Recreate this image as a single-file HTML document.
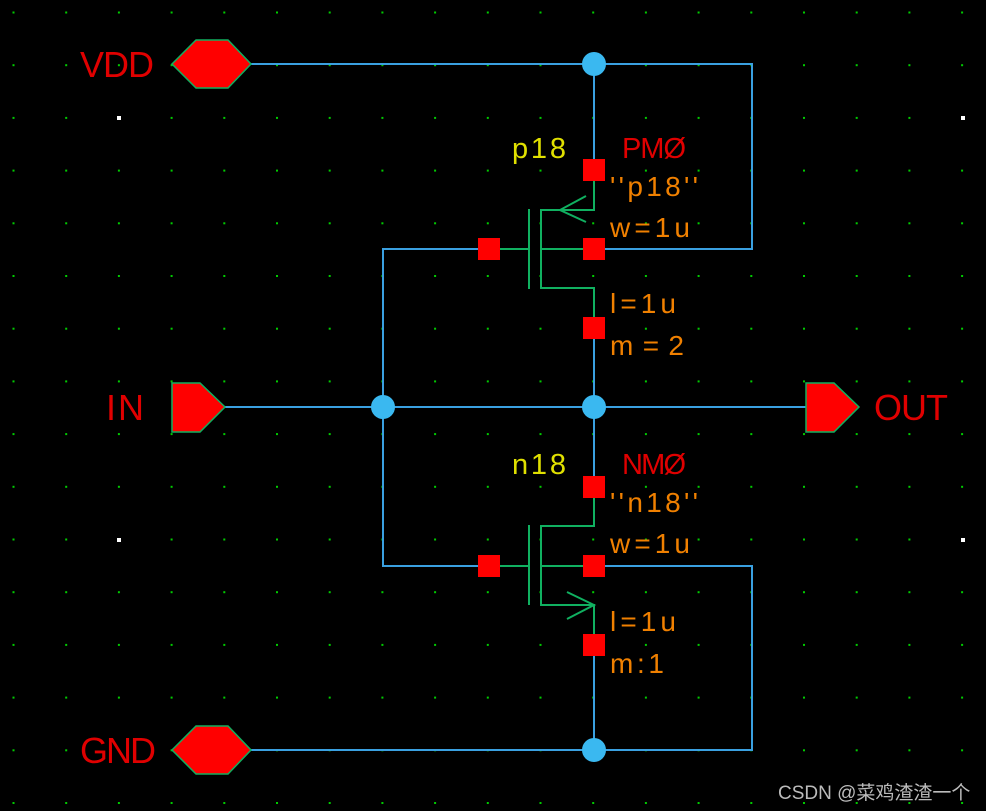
<!DOCTYPE html>
<html><head><meta charset="utf-8"><style>
html,body{margin:0;padding:0;background:#000;}
svg{display:block}
text{font-family:"Liberation Sans",sans-serif;}
</style></head><body>
<svg width="986" height="811" xmlns="http://www.w3.org/2000/svg">
<defs>
<pattern id="g" x="12.5" y="11.5" width="52.7" height="52.7" patternUnits="userSpaceOnUse">
<rect x="0" y="0" width="2" height="2" fill="#0c0"/>
</pattern>
</defs>
<rect width="986" height="811" fill="#000"/>
<rect width="986" height="811" fill="url(#g)"/>
<g fill="#fff"><rect x="117" y="116" width="4" height="4"/><rect x="961" y="116" width="4" height="4"/><rect x="117" y="538" width="4" height="4"/><rect x="961" y="538" width="4" height="4"/></g>
<!-- blue wires -->
<g stroke="#3aa0e0" stroke-width="2" fill="none">
<polyline points="251,64 752,64 752,249 594,249"/>
<line x1="594" y1="64" x2="594" y2="170"/>
<line x1="594" y1="328" x2="594" y2="487"/>
<line x1="594" y1="645" x2="594" y2="750"/>
<line x1="225" y1="407" x2="806" y2="407"/>
<polyline points="489,249 383,249 383,566 489,566"/>
<polyline points="594,566 752,566 752,750 251,750"/>
</g>
<g fill="#3ab8f0">
<circle cx="594" cy="64" r="12"/><circle cx="594" cy="407" r="12"/><circle cx="383" cy="407" r="12"/><circle cx="594" cy="750" r="12"/>
</g>
<!-- green transistors -->
<g stroke="#10b060" stroke-width="2" fill="none">
<polyline points="594,170 594,210 541,210 541,288 594,288 594,328"/>
<line x1="529" y1="209" x2="529" y2="289"/>
<line x1="489" y1="249" x2="529" y2="249"/>
<line x1="541" y1="249" x2="594" y2="249"/>
<polyline points="586,196 560,210 586,222"/>
<polyline points="594,487 594,526 541,526 541,605 594,605 594,645"/>
<line x1="529" y1="525" x2="529" y2="605"/>
<line x1="489" y1="566" x2="529" y2="566"/>
<line x1="541" y1="566" x2="594" y2="566"/>
<polyline points="567,592 594,605 567,619"/>
</g>
<g fill="#f00">
<rect x="583" y="159" width="22" height="22"/><rect x="583" y="238" width="22" height="22"/><rect x="583" y="317" width="22" height="22"/><rect x="478" y="238" width="22" height="22"/>
<rect x="583" y="476" width="22" height="22"/><rect x="583" y="555" width="22" height="22"/><rect x="583" y="634" width="22" height="22"/><rect x="478" y="555" width="22" height="22"/>
</g>
<!-- pins -->
<g fill="#f00" stroke="#10b060" stroke-width="1.5">
<polygon points="172,64 196,40 228,40 251,64 228,88 196,88"/>
<polygon points="172,750 196,726 228,726 251,750 228,774 196,774"/>
<polygon points="172,383 200,383 225,407 200,432 172,432"/>
<polygon points="806,383 834,383 859,407 834,432 806,432"/>
</g>
<g fill="#e00000" font-size="36">
<text x="80" y="77" textLength="74">VDD</text>
<text x="80" y="763" textLength="76">GND</text>
<text x="106" y="420" textLength="38">IN</text>
<text x="874" y="420" textLength="74">OUT</text>
</g>
<g font-size="29">
<text x="512" y="158" fill="#e0e000" textLength="54">p18</text>
<text x="622" y="158" fill="#e00000" textLength="64">PMØ</text>
<text x="512" y="474" fill="#e0e000" textLength="54">n18</text>
<text x="622" y="474" fill="#e00000" textLength="64">NMØ</text>
</g>
<g font-size="28" fill="#f08000">
<text x="610" y="196" textLength="88">''p18''</text>
<text x="610" y="237" textLength="80">w=1u</text>
<text x="610" y="313" textLength="66">l=1u</text>
<text x="610" y="355" textLength="74">m=2</text>
<text x="610" y="512" textLength="88">''n18''</text>
<text x="610" y="553" textLength="80">w=1u</text>
<text x="610" y="631" textLength="66">l=1u</text>
<text x="610" y="673" textLength="54">m:1</text>
</g>
<text x="778" y="799" font-size="19" fill="#bbb" style="font-family:'Liberation Sans','Noto Sans CJK SC',sans-serif">CSDN @菜鸡渣渣一个</text>
</svg>
</body></html>
